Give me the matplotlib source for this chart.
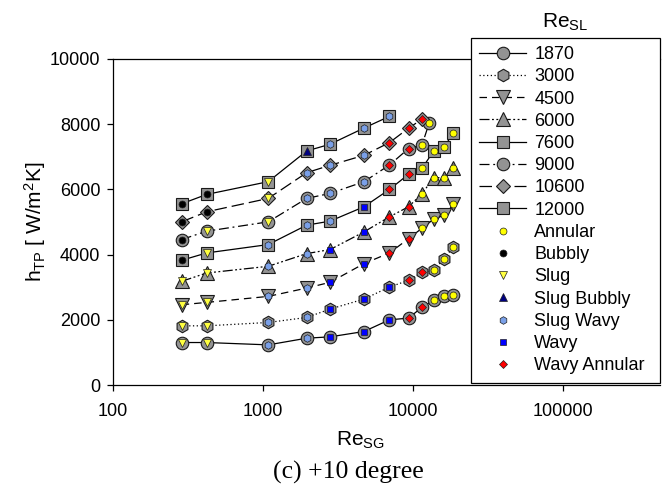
import matplotlib
matplotlib.use('Agg')
import matplotlib.pyplot as plt
from matplotlib.lines import Line2D

plt.rcParams['font.family'] = ['Liberation Sans', 'DejaVu Sans']
plt.rcParams['mathtext.fontset'] = 'custom'
plt.rcParams['mathtext.rm'] = 'Liberation Sans'
plt.rcParams['mathtext.it'] = 'Liberation Sans:italic'
plt.rcParams['mathtext.bf'] = 'Liberation Sans:bold'

# ---------------- data ----------------
re_sl_labels = ['1870', '3000', '4500', '6000', '7600', '9000', '10600', '12000']

x_full = [287, 421, 1084, 1955, 2797, 4713, 6969, 9333, 11482, 13740, 16110, 18620]
x_9000 = [287, 421, 1084, 1955, 2797, 4713, 6969, 9333, 11482, 12790]
x_10600 = [287, 421, 1084, 1955, 2797, 4713, 6969, 9333, 11482]
x_12000 = [287, 421, 1084, 1955, 2797, 4713, 6969]

h_1870 = [1303, 1303, 1231, 1436, 1477, 1641, 2000, 2051, 2385, 2595, 2718, 2755]
h_3000 = [1815, 1815, 1918, 2072, 2328, 2636, 3005, 3210, 3456, 3518, 3877, 4236]
h_4500 = [2462, 2533, 2718, 2974, 3149, 3723, 4051, 4487, 4810, 5087, 5205, 5538]
h_6000 = [3180, 3436, 3641, 4031, 4154, 4697, 5159, 5467, 5868, 6360, 6360, 6668]
h_7600 = [3826, 4051, 4308, 4903, 5026, 5467, 6000, 6462, 6646, 7178, 7302, 7732]
h_9000 = [4462, 4718, 5005, 5723, 5877, 6236, 6748, 7252, 7363, 8022]
h_10600 = [5005, 5313, 5723, 6513, 6738, 7046, 7436, 7877, 8154]
h_12000 = [5559, 5846, 6237, 7179, 7385, 7882, 8241]

reg_1870 = ['S', 'S', 'SW', 'SW', 'W', 'W', 'W', 'WA', 'WA', 'A', 'A', 'A']
reg_3000 = ['S', 'S', 'SW', 'SW', 'W', 'W', 'W', 'WA', 'WA', 'A', 'A', 'A']
reg_4500 = ['S', 'S', 'SW', 'SW', 'W', 'W', 'WA', 'WA', 'A', 'A', 'A', 'A']
reg_6000 = ['S', 'S', 'SW', 'SW', 'W', 'W', 'WA', 'WA', 'A', 'A', 'A', 'A']
reg_7600 = ['B', 'S', 'SW', 'SW', 'SW', 'W', 'WA', 'WA', 'A', 'A', 'A', 'A']
reg_9000 = ['B', 'S', 'S', 'SW', 'SW', 'SW', 'WA', 'WA', 'A', 'A']
reg_10600 = ['B', 'B', 'S', 'SW', 'SW', 'SW', 'WA', 'WA', 'WA']
reg_12000 = ['B', 'B', 'S', 'SB', 'SW', 'SW', 'SW']

regime_codes = ['A', 'B', 'S', 'SB', 'SW', 'W', 'WA']
regime_names = ['Annular', 'Bubbly', 'Slug', 'Slug Bubbly', 'Slug Wavy', 'Wavy', 'Wavy Annular']

# ---------------- styles ----------------
series = [
    (x_full, h_1870, reg_1870, 'o', 9.0, '-'),
    (x_full, h_3000, reg_3000, 'h', 9.0, (0, (1, 2))),
    (x_full, h_4500, reg_4500, 'v', 9.5, (0, (6, 4))),
    (x_full, h_6000, reg_6000, '^', 9.5, (0, (8, 2, 1.5, 2, 1.5, 2))),
    (x_full, h_7600, reg_7600, 's', 8.0, '-'),
    (x_9000, h_9000, reg_9000, 'o', 9.0, (0, (8, 3, 1.5, 3))),
    (x_10600, h_10600, reg_10600, 'D', 7.5, (0, (10, 4))),
    (x_12000, h_12000, reg_12000, 's', 8.0, '-'),
]

reg_style = {
    'A': dict(marker='o', color='#ffff00', ms=5.0),
    'B': dict(marker='o', color='#000000', ms=5.0),
    'S': dict(marker='v', color='#ffff40', ms=5.5),
    'SB': dict(marker='^', color='#000080', ms=5.5),
    'SW': dict(marker='h', color='#7aa0e8', ms=5.5),
    'W': dict(marker='s', color='#0000ff', ms=4.8),
    'WA': dict(marker='D', color='#ff0000', ms=4.2),
}

GRAY = '#939393'
EDGE = '#1a1a1a'

W, H = 667, 493
fig = plt.figure(figsize=(W / 100, H / 100), dpi=100)
ax = fig.add_axes([113 / W, 1 - 385 / H, (660 - 113) / W, (385 - 59) / H])

for xs, hs, regs, mk, ms, ls in series:
    ax.plot(xs, hs, color='black', lw=0.9, linestyle=ls, zorder=2)
    ax.plot(xs, hs, linestyle='none', marker=mk, ms=ms, mfc=GRAY, mec=EDGE, mew=0.8, zorder=3)
    for code in regime_codes:
        px = [x for x, r in zip(xs, regs) if r == code]
        py = [y for y, r in zip(hs, regs) if r == code]
        if px:
            st = reg_style[code]
            ax.plot(px, py, linestyle='none', marker=st['marker'], ms=st['ms'],
                    mfc=st['color'], mec='#202020', mew=0.5, zorder=4)

ax.set_xscale('log')
ax.set_xlim(100, 10 ** (2 + (660 - 113) / 150))
ax.set_ylim(0, 10000)
ax.set_xticks([100, 1000, 10000, 100000])
ax.set_xticklabels(['100', '1000', '10000', '100000'])
ax.xaxis.set_minor_locator(matplotlib.ticker.NullLocator())
ax.set_yticks([0, 2000, 4000, 6000, 8000, 10000])
ax.set_yticklabels(['0', '2000', '4000', '6000', '8000', '10000'])
ax.tick_params(axis='both', direction='out', length=4, width=0.9, labelsize=13, colors='black')
ax.tick_params(axis='x', pad=9)
ax.tick_params(axis='y', pad=5)
for s in ['left', 'bottom', 'top']:
    ax.spines[s].set_linewidth(0.9)
ax.spines['right'].set_visible(False)

fig.text(35 / W, 1 - 222 / H, r'h$_{\mathregular{TP}}$ [ W/m$^{\mathregular{2}}$K]', rotation=90,
         ha='center', va='center', fontsize=15)
fig.text(360 / W, 1 - 440 / H, r'Re$_{\mathregular{SG}}$', ha='center', va='center', fontsize=15)
fig.text(348 / W, 1 - 472 / H, '(c) +10 degree', ha='center', va='center', fontsize=18.5,
         family=['Liberation Serif', 'DejaVu Serif'])
fig.text(565 / W, 1 - 22 / H, r'Re$_{\mathregular{SL}}$', ha='center', va='center', fontsize=15)

handles = []
labels = []
for (xs, hs, regs, mk, ms, ls), lab in zip(series, re_sl_labels):
    handles.append(Line2D([], [], color='black', lw=0.9, linestyle=ls, marker=mk, ms=ms,
                          mfc=GRAY, mec=EDGE, mew=0.8))
    labels.append(lab)
for code, name in zip(regime_codes, regime_names):
    st = reg_style[code]
    handles.append(Line2D([], [], linestyle='none', marker=st['marker'], ms=st['ms'],
                          mfc=st['color'], mec='#202020', mew=0.5))
    labels.append(name)

leg = fig.legend(handles, labels, loc='upper left',
                 bbox_to_anchor=(471 / W, 1 - 38 / H, (660 - 471) / W, 0.0001),
                 mode='expand', fontsize=13, handlelength=2.6, handletextpad=0.45,
                 labelspacing=0.29, borderpad=0.45, borderaxespad=0, fancybox=False,
                 framealpha=1, edgecolor='black')
leg.get_frame().set_linewidth(0.9)

fig.savefig('out.png', dpi=100)
